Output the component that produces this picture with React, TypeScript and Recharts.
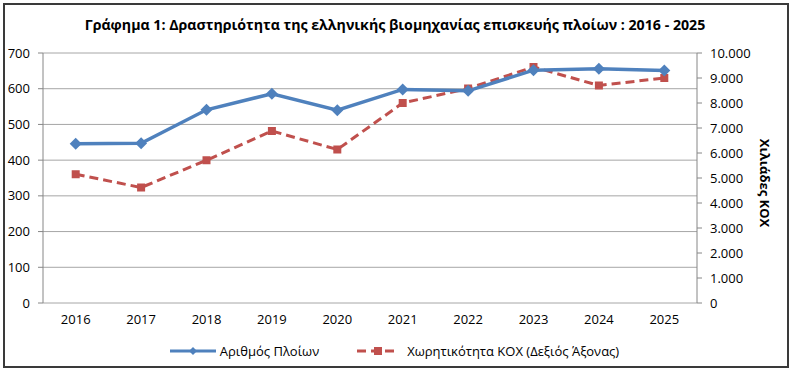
import React from 'react';
import { LineChart, Line, XAxis, YAxis, CartesianGrid, Legend, Label } from 'recharts';

// Στοιχεία γραφήματος 2016 - 2025
const years = ['2016', '2017', '2018', '2019', '2020', '2021', '2022', '2023', '2024', '2025'];
const vessels = [446, 447, 541, 586, 540, 598, 594, 652, 656, 651];
const capacity = [5150, 4620, 5710, 6880, 6140, 8000, 8580, 9440, 8700, 9000];
const leftTicks = [0, 100, 200, 300, 400, 500, 600, 700];
const rightTicks = [0, 1000, 2000, 3000, 4000, 5000, 6000, 7000, 8000, 9000, 10000];

const BLUE = '#4F81BD';
const RED = '#C0504D';
const AXIS = '#868686';
const FONT = '"Open Sans", sans-serif';

const chartData = years.map((year, i) => ({
  pos: i + 0.5,
  year,
  vessels: vessels[i],
  capacity: capacity[i],
}));

const formatThousands = (v: number) => String(v).replace(/\B(?=(\d{3})+(?!\d))/g, '.');

const Diamond = (props: any) => {
  const { cx, cy, index } = props;
  if (cx == null || cy == null) return <g key={index} />;
  const r = 6;
  return <path key={index} d={`M${cx},${cy - r}L${cx + r},${cy}L${cx},${cy + r}L${cx - r},${cy}Z`} fill={BLUE} />;
};

const Square = (props: any) => {
  const { cx, cy, index } = props;
  if (cx == null || cy == null) return <g key={index} />;
  return <rect key={index} x={cx - 4} y={cy - 4} width={8} height={8} fill={RED} />;
};

const renderLegend = () => (
  <div style={{ display: 'flex', justifyContent: 'center', alignItems: 'center', fontFamily: FONT, fontSize: 13, color: '#000', paddingRight: 4 }}>
    <svg width={46} height={10} style={{ marginRight: 4 }}>
      <line x1={0} y1={5} x2={46} y2={5} stroke={BLUE} strokeWidth={3} />
      <path d="M23,1L27,5L23,9L19,5Z" fill={BLUE} />
    </svg>
    <span>Αριθμός Πλοίων</span>
    <svg width={42} height={10} style={{ marginLeft: 38, marginRight: 8 }}>
      <line x1={0} y1={5} x2={42} y2={5} stroke={RED} strokeWidth={3} strokeDasharray="9 5" />
      <rect x={17} y={1} width={8} height={8} fill={RED} />
    </svg>
    <span>Χωρητικότητα ΚΟΧ (Δεξιός Άξονας)</span>
  </div>
);

const RightAxisLabel = (props: any) => {
  const { viewBox } = props;
  const x = viewBox.x + 68;
  const y = viewBox.y + viewBox.height / 2 + 5;
  return (
    <text x={x} y={y} transform={`rotate(90, ${x}, ${y})`} textAnchor="middle" dominantBaseline="central"
      fontFamily={FONT} fontSize={13} fontWeight={700} fill="#000">
      Χιλιάδες ΚΟΧ
    </text>
  );
};

export default function App() {
  return (
    <div style={{ position: 'absolute', left: 0, top: 0, width: 793, height: 376, background: '#fff' }}>
      <div style={{ position: 'absolute', left: 3, top: 3, width: 786, height: 365, border: '2px solid #3a3a3a', boxSizing: 'border-box' }} />
      <div style={{ position: 'absolute', left: 0, top: 15, width: 790, textAlign: 'center', fontFamily: FONT, fontSize: 14.2, fontWeight: 700, color: '#000' }}>
        Γράφημα 1: Δραστηριότητα της ελληνικής βιομηχανίας επισκευής πλοίων : 2016 - 2025
      </div>
      <div style={{ position: 'absolute', left: 0, top: 0 }}>
        <LineChart width={793} height={376} data={chartData} margin={{ top: 53, right: 0, bottom: 33, left: 0 }}>
          <CartesianGrid horizontal vertical={false} stroke="#a6a6a6" yAxisId="left" xAxisId="grid" />
          <XAxis xAxisId="grid" type="number" dataKey="pos" domain={[0, 10]} ticks={[0, 1, 2, 3, 4, 5, 6, 7, 8, 9, 10]}
            height={0} tick={false} tickSize={5} axisLine={{ stroke: AXIS }} tickLine={{ stroke: AXIS }} />
          <XAxis xAxisId="x" type="number" dataKey="pos" domain={[0, 10]} ticks={chartData.map((d) => d.pos)}
            tickFormatter={(v: number) => years[Math.floor(v)]} height={40} axisLine={false} tickLine={false}
            tickSize={6} tickMargin={6} tick={{ fontFamily: FONT, fontSize: 13, fill: '#000' }} />
          <YAxis yAxisId="left" domain={[0, 700]} ticks={leftTicks} width={43} tickSize={5} tickMargin={8}
            axisLine={{ stroke: AXIS }} tickLine={{ stroke: AXIS }} tick={{ fontFamily: FONT, fontSize: 13, fill: '#000' }} />
          <YAxis yAxisId="right" orientation="right" domain={[0, 10000]} ticks={rightTicks} width={96} tickSize={5} tickMargin={8}
            tickFormatter={formatThousands} axisLine={{ stroke: AXIS }} tickLine={{ stroke: AXIS }}
            tick={{ fontFamily: FONT, fontSize: 13, fill: '#000', textAnchor: 'start' }}>
            <Label content={<RightAxisLabel />} />
          </YAxis>
          <Legend layout="horizontal" verticalAlign="middle" align="center" content={renderLegend}
            wrapperStyle={{ top: 342, left: 0, width: 793 }} />
          <Line xAxisId="x" yAxisId="right" dataKey="capacity" stroke={RED} strokeWidth={3} strokeDasharray="9 5"
            dot={<Square />} activeDot={false} isAnimationActive={false} />
          <Line xAxisId="x" yAxisId="left" dataKey="vessels" stroke={BLUE} strokeWidth={3.5}
            dot={<Diamond />} activeDot={false} isAnimationActive={false} />
        </LineChart>
      </div>
    </div>
  );
}
